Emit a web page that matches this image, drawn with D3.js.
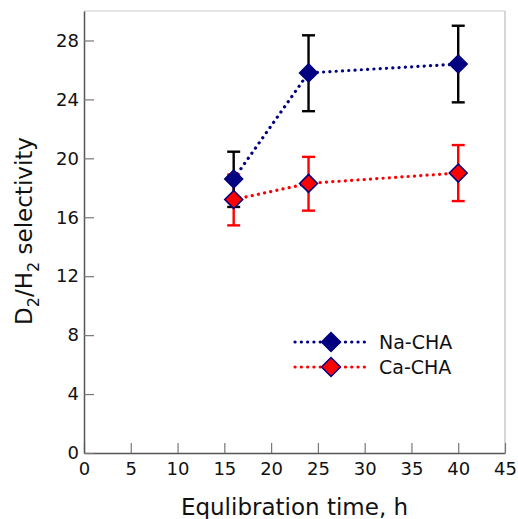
<!DOCTYPE html>
<html>
<head>
<meta charset="utf-8">
<script src="https://cdn.jsdelivr.net/npm/d3@7"></script>
<style>
  body { margin: 0; background: #fff; }
  text { font-family: "DejaVu Sans", sans-serif; }
</style>
</head>
<body>
<div id="chart"></div>
<script>
// data
var times = [16, 24, 40];
var naValues = [18.6, 25.8, 26.4];
var naLow = [16.7, 23.2, 23.8];
var naHigh = [20.45, 28.35, 29.0];
var caValues = [17.2, 18.3, 19.0];
var caLow = [15.45, 16.45, 17.1];
var caHigh = [18.9, 20.1, 20.9];
var seriesNames = ["Na-CHA", "Ca-CHA"];
var xTicks = [0, 5, 10, 15, 20, 25, 30, 35, 40, 45];
var yTicks = [0, 4, 8, 12, 16, 20, 24, 28];

var margin = {top: 11, right: 13, bottom: 66, left: 84};
var width = 518 - margin.left - margin.right;
var height = 519 - margin.top - margin.bottom;

var svg = d3.select("#chart").append("svg")
    .attr("width", 518)
    .attr("height", 519)
  .append("g")
    .attr("transform", "translate(" + margin.left + "," + margin.top + ")");

var x = d3.scaleLinear().domain([0, 45]).range([0, width]);
var y = d3.scaleLinear().domain([0, 30]).range([height, 0]);

// frame: top and right light
svg.append("line").attr("x1", 0).attr("x2", width).attr("y1", 0).attr("y2", 0)
    .attr("stroke", "#dddddd").attr("stroke-width", 1.5);
svg.append("line").attr("x1", width).attr("x2", width).attr("y1", 0).attr("y2", height)
    .attr("stroke", "#bbbbbb").attr("stroke-width", 1.2);

// axes with inward ticks
var xAxis = svg.append("g")
    .attr("transform", "translate(0," + height + ")")
    .call(d3.axisBottom(x).tickValues(xTicks).tickSizeInner(-10).tickSizeOuter(0).tickPadding(9));
var yAxis = svg.append("g")
    .call(d3.axisLeft(y).tickValues(yTicks).tickSizeInner(-10).tickSizeOuter(0).tickPadding(5));

[xAxis, yAxis].forEach(function(a) {
    a.select(".domain").attr("stroke", "#555").attr("stroke-width", 1.5);
    a.selectAll(".tick line").attr("stroke", "#777").attr("stroke-width", 1.2);
    a.selectAll(".tick text").attr("fill", "#111").style("font-size", "18px");
});
xAxis.selectAll(".tick text").attr("dy", "0.71em");

// axis titles
svg.append("text")
    .attr("x", x(22.5))
    .attr("y", height + 62)
    .attr("text-anchor", "middle")
    .attr("fill", "#111")
    .style("font-size", "23px")
    .text("Equlibration time, h");

var yLabel = svg.append("text")
    .attr("transform", "translate(-52," + (y(15) - 1) + ") rotate(-90)")
    .attr("text-anchor", "middle")
    .attr("fill", "#111")
    .style("font-size", "23px");
yLabel.append("tspan").text("D");
yLabel.append("tspan").attr("dy", 7).style("font-size", "16px").text("2");
yLabel.append("tspan").attr("dy", -7).text("/H");
yLabel.append("tspan").attr("dy", 7).style("font-size", "16px").text("2");
yLabel.append("tspan").attr("dy", -7).text(" selectivity");

var na = times.map(function(t, i) { return {t: t, v: naValues[i], lo: naLow[i], hi: naHigh[i]}; });
var ca = times.map(function(t, i) { return {t: t, v: caValues[i], lo: caLow[i], hi: caHigh[i]}; });

var line = d3.line()
    .x(function(d) { return x(d.t); })
    .y(function(d) { return y(d.v); });

function dotted(sel, color) {
    return sel.attr("fill", "none")
        .attr("stroke", color)
        .attr("stroke-width", 3.2)
        .attr("stroke-linecap", "round")
        .attr("stroke-dasharray", "0.1,6.2");
}

svg.append("path").datum(na).attr("d", line).call(dotted, "#000080");
svg.append("path").datum(ca).attr("d", line).call(dotted, "#ff0000");

function errorBars(data, color) {
    var g = svg.append("g").attr("stroke", color).attr("stroke-width", 2.4);
    g.selectAll(".v").data(data).enter().append("line")
        .attr("x1", function(d) { return x(d.t); })
        .attr("x2", function(d) { return x(d.t); })
        .attr("y1", function(d) { return y(d.lo); })
        .attr("y2", function(d) { return y(d.hi); });
    ["lo", "hi"].forEach(function(k) {
        g.selectAll(".c" + k).data(data).enter().append("line")
            .attr("x1", function(d) { return x(d.t) - 6.5; })
            .attr("x2", function(d) { return x(d.t) + 6.5; })
            .attr("y1", function(d) { return y(d[k]); })
            .attr("y2", function(d) { return y(d[k]); });
    });
}
errorBars(ca, "#ff0000");
errorBars(na, "#000000");

var diamond = "M0,-9L9,0L0,9L-9,0Z";
function markers(data, fill) {
    svg.append("g").selectAll("path").data(data).enter().append("path")
        .attr("d", diamond)
        .attr("transform", function(d) { return "translate(" + x(d.t) + "," + y(d.v) + ")"; })
        .attr("fill", fill)
        .attr("stroke", "#000080")
        .attr("stroke-width", 1.5);
}
markers(na, "#000080");
markers(ca, "#ff0000");

// legend
var legend = svg.append("g").attr("transform", "translate(" + (293 - margin.left) + "," + (342 - margin.top) + ")");
[["#000080", "#000080"], ["#ff0000", "#ff0000"]].forEach(function(c, i) {
    var row = legend.append("g").attr("transform", "translate(0," + (i * 25) + ")");
    row.append("path").attr("d", "M2,0L74,0").call(dotted, c[0]);
    row.append("path").attr("d", "M0,-9.5L9.5,0L0,9.5L-9.5,0Z")
        .attr("transform", "translate(38,0)")
        .attr("fill", c[1])
        .attr("stroke", "#000080")
        .attr("stroke-width", 1.5);
    row.append("text")
        .attr("x", 86)
        .attr("dy", "0.35em")
        .attr("fill", "#111")
        .style("font-size", "19px")
        .text(seriesNames[i]);
});
</script>
</body>
</html>
